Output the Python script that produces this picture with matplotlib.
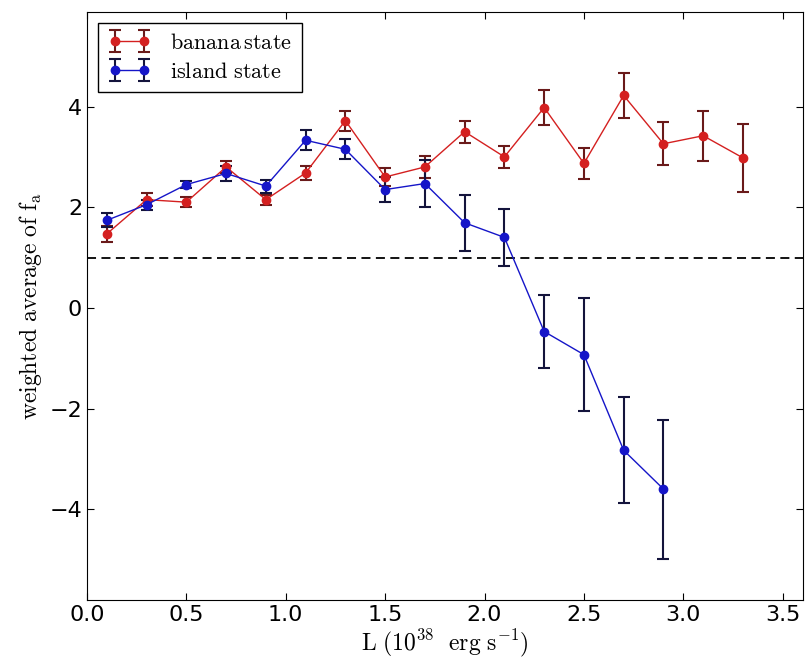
import matplotlib
matplotlib.use("Agg")
import matplotlib.pyplot as plt
import numpy as np

plt.rcParams["mathtext.fontset"] = "cm"

# banana state
x_banana = [0.1, 0.3, 0.5, 0.7, 0.9, 1.1, 1.3, 1.5, 1.7, 1.9, 2.1, 2.3, 2.5, 2.7, 2.9, 3.1, 3.3]
y_banana = [1.47, 2.15, 2.1, 2.8, 2.15, 2.68, 3.72, 2.6, 2.8, 3.5, 3.0, 3.98, 2.87, 4.22, 3.26, 3.42, 2.98]
e_banana = [0.16, 0.13, 0.1, 0.12, 0.1, 0.14, 0.2, 0.17, 0.22, 0.22, 0.22, 0.34, 0.31, 0.44, 0.43, 0.5, 0.68]

# island state
x_island = [0.1, 0.3, 0.5, 0.7, 0.9, 1.1, 1.3, 1.5, 1.7, 1.9, 2.1, 2.3, 2.5, 2.7, 2.9]
y_island = [1.74, 2.05, 2.45, 2.67, 2.42, 3.33, 3.15, 2.35, 2.47, 1.69, 1.4, -0.47, -0.93, -2.83, -3.6]
e_island = [0.14, 0.1, 0.07, 0.15, 0.13, 0.2, 0.2, 0.25, 0.46, 0.56, 0.56, 0.72, 1.12, 1.05, 1.38]

fig = plt.figure(figsize=(8.05, 6.62), dpi=100)
ax = fig.add_axes([0.108, 0.094, 0.889, 0.888])

ax.errorbar(x_banana, y_banana, yerr=e_banana, color="#d42020", ecolor="#6a1a1a",
            marker="o", markersize=6, lw=1.0, elinewidth=1.5, capsize=4, capthick=1.5,
            label=r"$\mathrm{banana\,state}$")
ax.errorbar(x_island, y_island, yerr=e_island, color="#1515c8", ecolor="#14143c",
            marker="o", markersize=6, lw=1.0, elinewidth=1.5, capsize=4, capthick=1.5,
            label=r"$\mathrm{island\ state}$")
ax.axhline(1.0, color="k", ls="--", lw=1.3, dashes=(5, 3))

ax.set_xlim(0, 3.6)
ax.set_ylim(-5.8, 5.88)
ax.set_xticks(np.arange(0, 3.51, 0.5))
ax.set_yticks([-4, -2, 0, 2, 4])
ax.tick_params(direction="in", labelsize=16, length=5, top=True, right=True)
ax.set_xlabel(r"$\mathrm{L\ (10^{38}\ \ erg\ s^{-1})}$", fontsize=17, labelpad=2)
ax.set_ylabel(r"$\mathrm{weighted\ average\ of\ f_a}$", fontsize=17, labelpad=4)

ax.legend(loc="upper left", numpoints=2, fontsize=16, fancybox=False,
          edgecolor="k", framealpha=1, handlelength=1.9, borderaxespad=0.5,
          labelspacing=0.4, borderpad=0.45, handletextpad=0.9)

fig.savefig("out.png", dpi=100)
